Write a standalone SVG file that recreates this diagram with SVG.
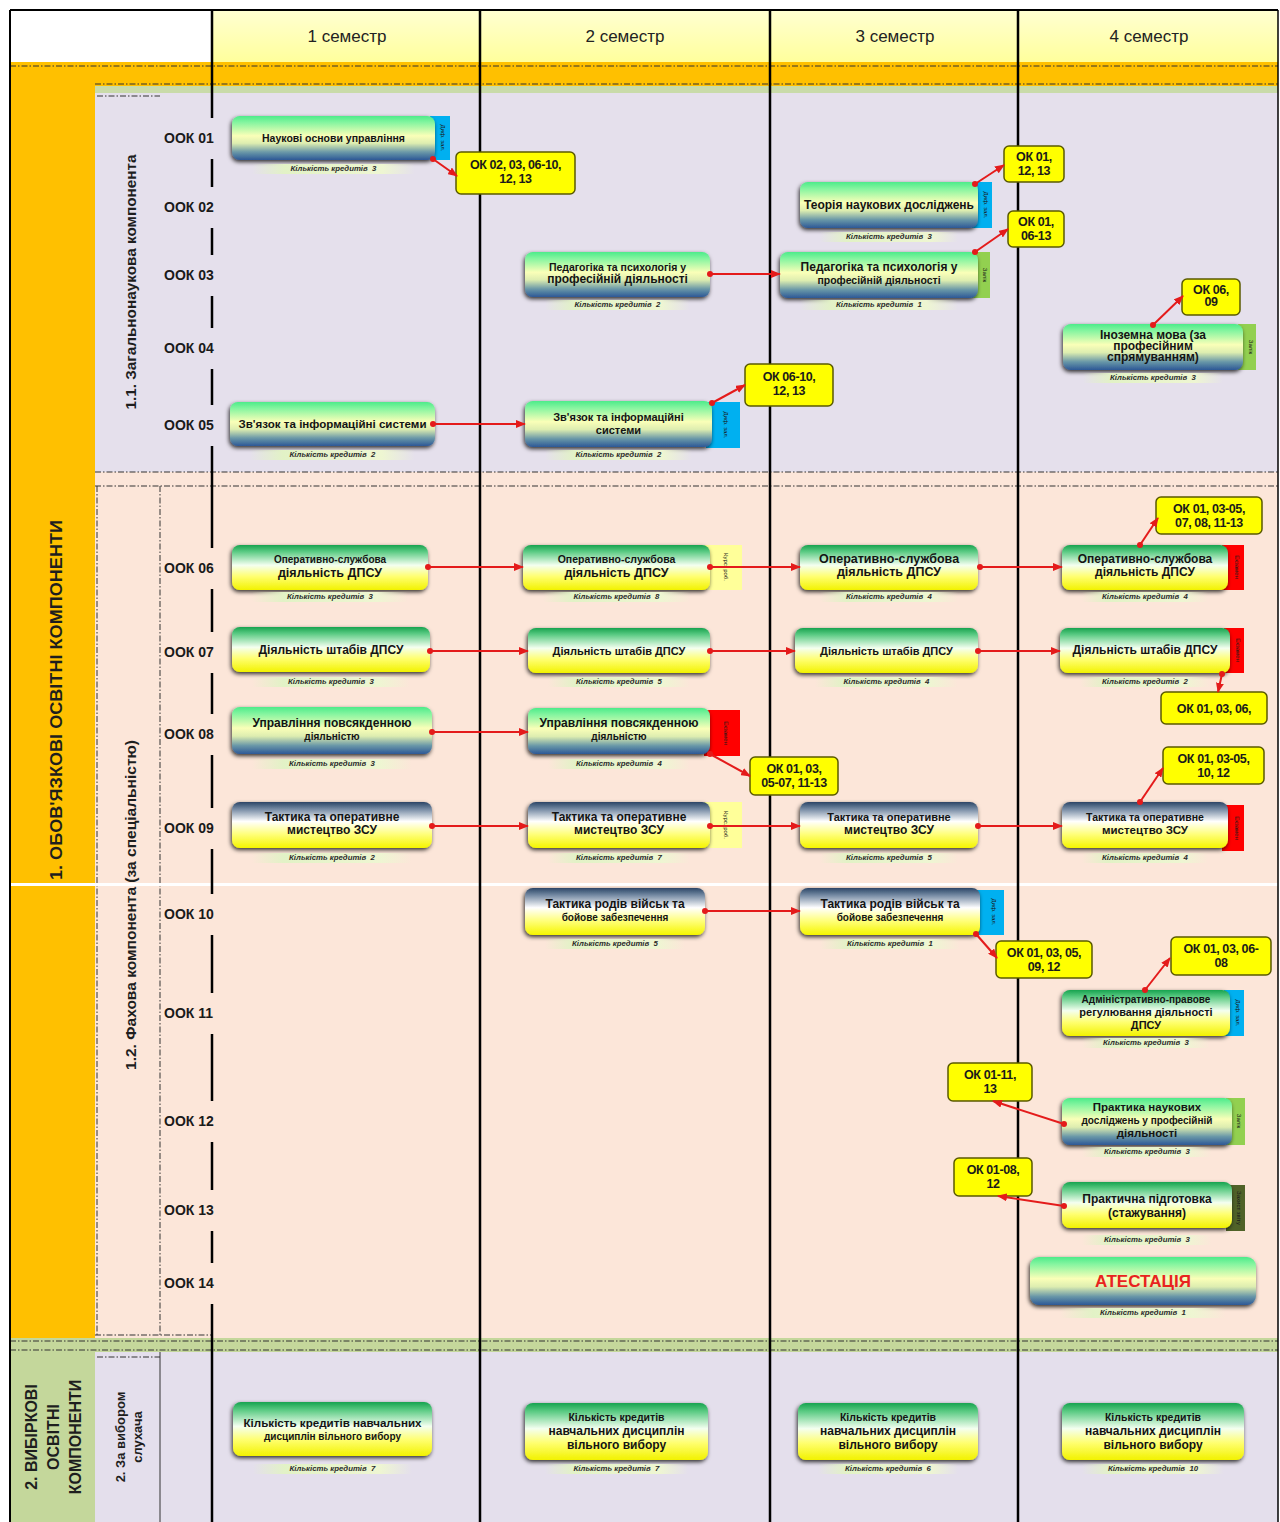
<svg xmlns="http://www.w3.org/2000/svg" width="1280" height="1522" viewBox="0 0 1280 1522">
<style>
.nt{font-family:"Liberation Sans",Arial,sans-serif;font-weight:bold;fill:#141414;text-anchor:middle}
.ct{font-family:"Liberation Sans",Arial,sans-serif;font-style:italic;font-weight:bold;font-size:7.8px;fill:#2a2a2a;text-anchor:middle}
.cr{fill:url(#gCr)}
.tt{font-family:"Liberation Sans",Arial,sans-serif;font-size:6px;fill:#1a1a1a;text-anchor:middle}
.lbl{font-family:"Liberation Sans",Arial,sans-serif;font-weight:bold;font-size:14px;fill:#1a1a1a}
.hd{font-family:"Liberation Sans",Arial,sans-serif;font-size:17px;fill:#222;text-anchor:middle}
.vt{font-family:"Liberation Sans",Arial,sans-serif;font-weight:bold;fill:#1e1e1e;text-anchor:middle}
.ko{fill:#FFFF00;stroke:#5A5A00;stroke-width:1.5}
.kt{font-family:"Liberation Sans",Arial,sans-serif;font-weight:bold;font-size:12.5px;fill:#1a1a1a;text-anchor:middle;letter-spacing:-0.4px}
.cn{stroke:#E41B1B;stroke-width:2;fill:none;marker-start:url(#dot);marker-end:url(#arr)}
.vl{stroke:#000;stroke-width:2.5}
.dl{stroke:#333;stroke-width:1;stroke-dasharray:6 2 1.5 2;fill:none}
.nd{filter:url(#sh)}
</style>
<defs>
<linearGradient id="gA" x1="0" y1="0" x2="0" y2="1">
<stop offset="0" stop-color="#4DEB8A"/><stop offset="0.15" stop-color="#86F5A0"/><stop offset="0.45" stop-color="#FAFFB8"/><stop offset="0.62" stop-color="#DDEDB0"/><stop offset="0.82" stop-color="#6A98A8"/><stop offset="1" stop-color="#2C5896"/>
</linearGradient>
<linearGradient id="gB" x1="0" y1="0" x2="0" y2="1">
<stop offset="0" stop-color="#16A34F"/><stop offset="0.15" stop-color="#5CCB84"/><stop offset="0.45" stop-color="#F4FFF0"/><stop offset="0.7" stop-color="#FFFF70"/><stop offset="1" stop-color="#F2F200"/>
</linearGradient>
<linearGradient id="gC" x1="0" y1="0" x2="0" y2="1">
<stop offset="0" stop-color="#2B4566"/><stop offset="0.15" stop-color="#7388A2"/><stop offset="0.42" stop-color="#FFFFFF"/><stop offset="0.7" stop-color="#FFFF7A"/><stop offset="1" stop-color="#F5F500"/>
</linearGradient>
<linearGradient id="gH" x1="0" y1="0" x2="0" y2="1">
<stop offset="0" stop-color="#FFFFD2"/><stop offset="1" stop-color="#FFFF9C"/>
</linearGradient>
<linearGradient id="gCr" x1="0" y1="0" x2="1" y2="0">
<stop offset="0" stop-color="#E2F2C6" stop-opacity="0"/><stop offset="0.2" stop-color="#E2F2C6"/><stop offset="0.8" stop-color="#EEF6D2"/><stop offset="1" stop-color="#EEF6D2" stop-opacity="0"/>
</linearGradient>
<filter id="sh" x="-10%" y="-20%" width="120%" height="150%">
<feDropShadow dx="-1" dy="2" stdDeviation="2" flood-color="#000" flood-opacity="0.8"/>
</filter>
<marker id="arr" markerUnits="userSpaceOnUse" markerWidth="10" markerHeight="8" viewBox="0 0 10 8" refX="9" refY="4" orient="auto">
<path d="M0,0 L10,4 L0,8 z" fill="#E41B1B"/>
</marker>
<marker id="dot" markerUnits="userSpaceOnUse" markerWidth="7" markerHeight="7" viewBox="0 0 7 7" refX="3.5" refY="3.5">
<circle cx="3.5" cy="3.5" r="3" fill="#E41B1B"/>
</marker>
</defs>

<g id="background">
<rect x="0" y="0" width="1280" height="1522" fill="#fff"/>
<rect x="10" y="10" width="202" height="52" fill="#fff"/>
<rect x="212" y="10" width="1066" height="52" fill="url(#gH)"/>
<rect x="10" y="62" width="1268" height="26" fill="#FFC000"/>
<rect x="10" y="62" width="85" height="1276" fill="#FFC000"/>
<rect x="95" y="86" width="1183" height="7" fill="#C9DBA9"/>
<rect x="95" y="93" width="1183" height="379" fill="#E5E0EC"/>
<rect x="95" y="472" width="1183" height="866" fill="#FCE6D9"/>
<rect x="10" y="1338" width="1268" height="14" fill="#C4D79B"/>
<rect x="10" y="1352" width="85" height="170" fill="#C4D79B"/>
<rect x="95" y="1352" width="1183" height="170" fill="#E4DFEC"/>
<line class="dl" x1="10" y1="66" x2="1278" y2="66"/>
<line class="dl" x1="95" y1="84" x2="1278" y2="84"/>
<line class="dl" x1="97" y1="96" x2="160" y2="96"/>
<line class="dl" x1="95" y1="472" x2="1278" y2="472"/>
<line class="dl" x1="95" y1="486" x2="1278" y2="486"/>
<line class="dl" x1="97" y1="486" x2="97" y2="1335"/>
<line class="dl" x1="160" y1="486" x2="160" y2="1335" stroke-dasharray="2 2"/>
<line class="dl" x1="95" y1="1335" x2="212" y2="1335"/>
<line class="dl" x1="10" y1="1341" x2="1278" y2="1341"/>
<line class="dl" x1="10" y1="1350" x2="1278" y2="1350"/>
<line class="dl" x1="97" y1="1357" x2="160" y2="1357"/>
<line x1="160" y1="1352" x2="160" y2="1522" stroke="#333" stroke-width="1"/>
<rect x="10" y="883" width="1268" height="3" fill="#fff"/>
<line x1="10" y1="10" x2="1278" y2="10" stroke="#000" stroke-width="2"/>
<line x1="10" y1="10" x2="10" y2="1522" stroke="#000" stroke-width="2"/>
<line x1="1278" y1="10" x2="1278" y2="1522" stroke="#000" stroke-width="1.5"/>
</g>

<g id="grid">
<line class="vl" x1="480" y1="10" x2="480" y2="1522"/>
<line class="vl" x1="770" y1="10" x2="770" y2="1522"/>
<line class="vl" x1="1018" y1="10" x2="1018" y2="1522"/>
<path class="vl" d="M212,10V118 M212,159V187 M212,228V255 M212,296V328 M212,369V405 M212,446V548 M212,589V632 M212,673V714 M212,755V808 M212,849V894 M212,935V993 M212,1034V1101 M212,1142V1190 M212,1231V1263 M212,1304V1522"/>
</g>

<g id="headers">
<text class="hd" x="347" y="42">1 семестр</text>
<text class="hd" x="625" y="42">2 семестр</text>
<text class="hd" x="895" y="42">3 семестр</text>
<text class="hd" x="1149" y="42">4 семестр</text>
</g>

<g id="section-labels">
<text class="vt" font-size="16" transform="translate(62,700) rotate(-90)" textLength="360" lengthAdjust="spacingAndGlyphs">1. ОБОВ'ЯЗКОВІ ОСВІТНІ КОМПОНЕНТИ</text>
<text class="vt" font-size="14" transform="translate(136,282) rotate(-90)" textLength="255" lengthAdjust="spacingAndGlyphs">1.1. Загальнонаукова компонента</text>
<text class="vt" font-size="14" transform="translate(136,905) rotate(-90)" textLength="330" lengthAdjust="spacingAndGlyphs">1.2. Фахова компонента (за спеціальністю)</text>
<text class="vt" font-size="16" transform="translate(37,1437) rotate(-90)">2. ВИБІРКОВІ</text>
<text class="vt" font-size="16" transform="translate(59,1437) rotate(-90)">ОСВІТНІ</text>
<text class="vt" font-size="16" transform="translate(81,1437) rotate(-90)">КОМПОНЕНТИ</text>
<text class="vt" font-size="13" transform="translate(125,1437) rotate(-90)">2. За вибором</text>
<text class="vt" font-size="13" transform="translate(142,1437) rotate(-90)">слухача</text>
</g>

<g id="row-labels">
<text class="lbl" x="164" y="143">ООК 01</text>
<text class="lbl" x="164" y="212">ООК 02</text>
<text class="lbl" x="164" y="280">ООК 03</text>
<text class="lbl" x="164" y="353">ООК 04</text>
<text class="lbl" x="164" y="430">ООК 05</text>
<text class="lbl" x="164" y="573">ООК 06</text>
<text class="lbl" x="164" y="657">ООК 07</text>
<text class="lbl" x="164" y="739">ООК 08</text>
<text class="lbl" x="164" y="833">ООК 09</text>
<text class="lbl" x="164" y="919">ООК 10</text>
<text class="lbl" x="164" y="1018">ООК 11</text>
<text class="lbl" x="164" y="1126">ООК 12</text>
<text class="lbl" x="164" y="1215">ООК 13</text>
<text class="lbl" x="164" y="1288">ООК 14</text>
</g>

<!-- Semester 1 -->
<g id="s1-ook01">
<rect x="430" y="116" width="20" height="44" fill="#00B0F0"/>
<text class="tt" transform="translate(441,138) rotate(90)">Диф. зал.</text>
<rect class="nd" x="232" y="116" width="203" height="44" rx="8" fill="url(#gA)"/>
<text class="nt" x="333.5" y="141.5" style="font-size:10.5px">Наукові основи управління</text>
<rect class="cr" x="252" y="164" width="163" height="10"/>
<text class="ct" x="333.5" y="171">Кількість кредитів&#160;&#160;3</text>
</g>
<g id="s1-ook05">
<rect class="nd" x="230" y="402" width="205" height="44" rx="8" fill="url(#gA)"/>
<text class="nt" x="332.5" y="428" style="font-size:11.5px" textLength="188" lengthAdjust="spacingAndGlyphs">Зв'язок та інформаційні системи</text>
<rect class="cr" x="250" y="450" width="165" height="10"/>
<text class="ct" x="332.5" y="457">Кількість кредитів&#160;&#160;2</text>
</g>
<g id="s1-ook06">
<rect class="nd" x="232" y="545" width="196" height="45" rx="8" fill="url(#gB)"/>
<text class="nt" x="330" y="563" style="font-size:10px">Оперативно-службова</text>
<text class="nt" x="330" y="577" style="font-size:12.5px">діяльність ДПСУ</text>
<rect class="cr" x="252" y="592" width="156" height="10"/>
<text class="ct" x="330" y="599">Кількість кредитів&#160;&#160;3</text>
</g>
<g id="s1-ook07">
<rect class="nd" x="232" y="627" width="198" height="45" rx="8" fill="url(#gB)"/>
<text class="nt" x="331" y="654" style="font-size:12px">Діяльність штабів ДПСУ</text>
<rect class="cr" x="252" y="677" width="158" height="10"/>
<text class="ct" x="331" y="684">Кількість кредитів&#160;&#160;3</text>
</g>
<g id="s1-ook08">
<rect class="nd" x="232" y="707" width="200" height="47" rx="8" fill="url(#gA)"/>
<text class="nt" x="332" y="727" style="font-size:12px">Управління повсякденною</text>
<text class="nt" x="332" y="740" style="font-size:10px">діяльністю</text>
<rect class="cr" x="252" y="759" width="160" height="10"/>
<text class="ct" x="332" y="766">Кількість кредитів&#160;&#160;3</text>
</g>
<g id="s1-ook09">
<rect class="nd" x="232" y="802" width="200" height="46" rx="8" fill="url(#gC)"/>
<text class="nt" x="332" y="821" style="font-size:12px">Тактика та оперативне</text>
<text class="nt" x="332" y="834" style="font-size:12px">мистецтво ЗСУ</text>
<rect class="cr" x="252" y="853" width="160" height="10"/>
<text class="ct" x="332" y="860">Кількість кредитів&#160;&#160;2</text>
</g>
<g id="s1-elective">
<rect class="nd" x="233" y="1402" width="199" height="54" rx="8" fill="url(#gB)"/>
<text class="nt" x="332.5" y="1427" style="font-size:11.5px" textLength="178" lengthAdjust="spacingAndGlyphs">Кількість кредитів навчальних</text>
<text class="nt" x="332.5" y="1440" style="font-size:10px">дисциплін вільного вибору</text>
<rect class="cr" x="253" y="1464" width="159" height="10"/>
<text class="ct" x="332.5" y="1471">Кількість кредитів&#160;&#160;7</text>
</g>

<!-- Semester 2 -->
<g id="s2-ook03">
<rect class="nd" x="525" y="252" width="185" height="45" rx="8" fill="url(#gA)"/>
<text class="nt" x="617.5" y="271" style="font-size:10.5px">Педагогіка та психологія у</text>
<text class="nt" x="617.5" y="283" style="font-size:12px">професійній діяльності</text>
<rect class="cr" x="545" y="300" width="145" height="10"/>
<text class="ct" x="617.5" y="307">Кількість кредитів&#160;&#160;2</text>
</g>
<g id="s2-ook05">
<rect x="706" y="402" width="34" height="46" fill="#00B0F0"/>
<text class="tt" transform="translate(724,425) rotate(90)">Диф. зал.</text>
<rect class="nd" x="525" y="401" width="187" height="46" rx="8" fill="url(#gA)"/>
<text class="nt" x="618.5" y="421" style="font-size:11px">Зв'язок та інформаційні</text>
<text class="nt" x="618.5" y="434" style="font-size:11px">системи</text>
<rect class="cr" x="545" y="450" width="147" height="10"/>
<text class="ct" x="618.5" y="457">Кількість кредитів&#160;&#160;2</text>
</g>
<g id="s2-ook06">
<rect x="704" y="545" width="38" height="45" fill="#FFFF99"/>
<text class="tt" transform="translate(724,567) rotate(90)">Курс. роб.</text>
<rect class="nd" x="523" y="545" width="187" height="45" rx="8" fill="url(#gB)"/>
<text class="nt" x="616.5" y="563" style="font-size:10.5px">Оперативно-службова</text>
<text class="nt" x="616.5" y="577" style="font-size:12.5px">діяльність ДПСУ</text>
<rect class="cr" x="543" y="592" width="147" height="10"/>
<text class="ct" x="616.5" y="599">Кількість кредитів&#160;&#160;8</text>
</g>
<g id="s2-ook07">
<rect class="nd" x="528" y="628" width="182" height="45" rx="8" fill="url(#gB)"/>
<text class="nt" x="619" y="655" style="font-size:11px">Діяльність штабів ДПСУ</text>
<rect class="cr" x="548" y="677" width="142" height="10"/>
<text class="ct" x="619" y="684">Кількість кредитів&#160;&#160;5</text>
</g>
<g id="s2-ook08">
<rect x="704" y="710" width="36" height="46" fill="#FF0000"/>
<text class="tt" transform="translate(724,733) rotate(90)">Екзамен</text>
<rect class="nd" x="528" y="708" width="182" height="46" rx="8" fill="url(#gA)"/>
<text class="nt" x="619" y="727" style="font-size:12px">Управління повсякденною</text>
<text class="nt" x="619" y="740" style="font-size:10px">діяльністю</text>
<rect class="cr" x="548" y="759" width="142" height="10"/>
<text class="ct" x="619" y="766">Кількість кредитів&#160;&#160;4</text>
</g>
<g id="s2-ook09">
<rect x="704" y="802" width="38" height="46" fill="#FFFF99"/>
<text class="tt" transform="translate(724,825) rotate(90)">Курс. роб.</text>
<rect class="nd" x="528" y="802" width="182" height="46" rx="8" fill="url(#gC)"/>
<text class="nt" x="619" y="821" style="font-size:12px">Тактика та оперативне</text>
<text class="nt" x="619" y="834" style="font-size:12px">мистецтво ЗСУ</text>
<rect class="cr" x="548" y="853" width="142" height="10"/>
<text class="ct" x="619" y="860">Кількість кредитів&#160;&#160;7</text>
</g>
<g id="s2-ook10">
<rect class="nd" x="525" y="888" width="180" height="47" rx="8" fill="url(#gC)"/>
<text class="nt" x="615" y="908" style="font-size:12px">Тактика родів військ та</text>
<text class="nt" x="615" y="921" style="font-size:10px">бойове забезпечення</text>
<rect class="cr" x="545" y="939" width="140" height="10"/>
<text class="ct" x="615" y="946">Кількість кредитів&#160;&#160;5</text>
</g>
<g id="s2-elective">
<rect class="nd" x="525" y="1403" width="183" height="57" rx="8" fill="url(#gB)"/>
<text class="nt" x="616.5" y="1421" style="font-size:10.5px">Кількість кредитів</text>
<text class="nt" x="616.5" y="1435" style="font-size:12px">навчальних дисциплін</text>
<text class="nt" x="616.5" y="1449" style="font-size:12px">вільного вибору</text>
<rect class="cr" x="545" y="1464" width="143" height="10"/>
<text class="ct" x="616.5" y="1471">Кількість кредитів&#160;&#160;7</text>
</g>

<!-- Semester 3 -->
<g id="s3-ook02">
<rect x="972" y="182" width="20" height="46" fill="#00B0F0"/>
<text class="tt" transform="translate(984,205) rotate(90)">Диф. зал.</text>
<rect class="nd" x="800" y="182" width="178" height="46" rx="8" fill="url(#gA)"/>
<text class="nt" x="889" y="209" style="font-size:12px">Теорія наукових досліджень</text>
<rect class="cr" x="820" y="232" width="138" height="10"/>
<text class="ct" x="889" y="239">Кількість кредитів&#160;&#160;3</text>
</g>
<g id="s3-ook03">
<rect x="972" y="252" width="18" height="46" fill="#92D050"/>
<text class="tt" transform="translate(983,275) rotate(90)">Залік</text>
<rect class="nd" x="780" y="252" width="198" height="46" rx="8" fill="url(#gA)"/>
<text class="nt" x="879" y="271" style="font-size:12px">Педагогіка та психологія у</text>
<text class="nt" x="879" y="284" style="font-size:10.5px">професійній діяльності</text>
<rect class="cr" x="800" y="300" width="158" height="10"/>
<text class="ct" x="879" y="307">Кількість кредитів&#160;&#160;1</text>
</g>
<g id="s3-ook06">
<rect class="nd" x="800" y="545" width="178" height="45" rx="8" fill="url(#gB)"/>
<text class="nt" x="889" y="563" style="font-size:12.5px">Оперативно-службова</text>
<text class="nt" x="889" y="576" style="font-size:12.5px">діяльність ДПСУ</text>
<rect class="cr" x="820" y="592" width="138" height="10"/>
<text class="ct" x="889" y="599">Кількість кредитів&#160;&#160;4</text>
</g>
<g id="s3-ook07">
<rect class="nd" x="795" y="628" width="183" height="45" rx="8" fill="url(#gB)"/>
<text class="nt" x="886.5" y="655" style="font-size:11px">Діяльність штабів ДПСУ</text>
<rect class="cr" x="815" y="677" width="143" height="10"/>
<text class="ct" x="886.5" y="684">Кількість кредитів&#160;&#160;4</text>
</g>
<g id="s3-ook09">
<rect class="nd" x="800" y="802" width="178" height="46" rx="8" fill="url(#gC)"/>
<text class="nt" x="889" y="821" style="font-size:11px">Тактика та оперативне</text>
<text class="nt" x="889" y="834" style="font-size:12px">мистецтво ЗСУ</text>
<rect class="cr" x="820" y="853" width="138" height="10"/>
<text class="ct" x="889" y="860">Кількість кредитів&#160;&#160;5</text>
</g>
<g id="s3-ook10">
<rect x="976" y="890" width="28" height="45" fill="#00B0F0"/>
<text class="tt" transform="translate(992,912) rotate(90)">Диф. зал.</text>
<rect class="nd" x="800" y="888" width="180" height="47" rx="8" fill="url(#gC)"/>
<text class="nt" x="890" y="908" style="font-size:12px">Тактика родів військ та</text>
<text class="nt" x="890" y="921" style="font-size:10px">бойове забезпечення</text>
<rect class="cr" x="820" y="939" width="140" height="10"/>
<text class="ct" x="890" y="946">Кількість кредитів&#160;&#160;1</text>
</g>
<g id="s3-elective">
<rect class="nd" x="798" y="1403" width="180" height="57" rx="8" fill="url(#gB)"/>
<text class="nt" x="888" y="1421" style="font-size:10.5px">Кількість кредитів</text>
<text class="nt" x="888" y="1435" style="font-size:12px">навчальних дисциплін</text>
<text class="nt" x="888" y="1449" style="font-size:12px">вільного вибору</text>
<rect class="cr" x="818" y="1464" width="140" height="10"/>
<text class="ct" x="888" y="1471">Кількість кредитів&#160;&#160;6</text>
</g>

<!-- Semester 4 -->
<g id="s4-ook04">
<rect x="1238" y="324" width="18" height="46" fill="#92D050"/>
<text class="tt" transform="translate(1249,347) rotate(90)">Залік</text>
<rect class="nd" x="1063" y="324" width="180" height="46" rx="8" fill="url(#gA)"/>
<text class="nt" x="1153" y="339" style="font-size:12px">Іноземна мова (за</text>
<text class="nt" x="1153" y="350" style="font-size:12px">професійним</text>
<text class="nt" x="1153" y="361" style="font-size:12px">спрямуванням)</text>
<rect class="cr" x="1083" y="373" width="140" height="10"/>
<text class="ct" x="1153" y="380">Кількість кредитів&#160;&#160;3</text>
</g>
<g id="s4-ook06">
<rect x="1222" y="545" width="22" height="45" fill="#FF0000"/>
<text class="tt" transform="translate(1235,567) rotate(90)">Екзамен</text>
<rect class="nd" x="1062" y="545" width="166" height="45" rx="8" fill="url(#gB)"/>
<text class="nt" x="1145" y="563" style="font-size:12px">Оперативно-службова</text>
<text class="nt" x="1145" y="576" style="font-size:12px">діяльність ДПСУ</text>
<rect class="cr" x="1082" y="592" width="126" height="10"/>
<text class="ct" x="1145" y="599">Кількість кредитів&#160;&#160;4</text>
</g>
<g id="s4-ook07">
<rect x="1224" y="628" width="20" height="45" fill="#FF0000"/>
<text class="tt" transform="translate(1236,650) rotate(90)">Екзамен</text>
<rect class="nd" x="1060" y="628" width="170" height="45" rx="8" fill="url(#gB)"/>
<text class="nt" x="1145" y="654" style="font-size:12px">Діяльність штабів ДПСУ</text>
<rect class="cr" x="1080" y="677" width="130" height="10"/>
<text class="ct" x="1145" y="684">Кількість кредитів&#160;&#160;2</text>
</g>
<g id="s4-ook09">
<rect x="1222" y="805" width="22" height="46" fill="#FF0000"/>
<text class="tt" transform="translate(1235,828) rotate(90)">Екзамен</text>
<rect class="nd" x="1062" y="802" width="166" height="46" rx="8" fill="url(#gC)"/>
<text class="nt" x="1145" y="821" style="font-size:10.5px">Тактика та оперативне</text>
<text class="nt" x="1145" y="834" style="font-size:11.5px">мистецтво ЗСУ</text>
<rect class="cr" x="1082" y="853" width="126" height="10"/>
<text class="ct" x="1145" y="860">Кількість кредитів&#160;&#160;4</text>
</g>
<g id="s4-ook11">
<rect x="1224" y="990" width="20" height="46" fill="#00B0F0"/>
<text class="tt" transform="translate(1236,1013) rotate(90)">Диф. зал.</text>
<rect class="nd" x="1062" y="990" width="168" height="46" rx="8" fill="url(#gB)"/>
<text class="nt" x="1146" y="1003" style="font-size:10px">Адміністративно-правове</text>
<text class="nt" x="1146" y="1016" style="font-size:11px">регулювання діяльності</text>
<text class="nt" x="1146" y="1029" style="font-size:11px">ДПСУ</text>
<rect class="cr" x="1082" y="1038" width="128" height="10"/>
<text class="ct" x="1146" y="1045">Кількість кредитів&#160;&#160;3</text>
</g>
<g id="s4-ook12">
<rect x="1226" y="1098" width="19" height="47" fill="#92D050"/>
<text class="tt" transform="translate(1237,1121) rotate(90)">Залік</text>
<rect class="nd" x="1062" y="1098" width="170" height="47" rx="8" fill="url(#gA)"/>
<text class="nt" x="1147" y="1111" style="font-size:11.5px">Практика наукових</text>
<text class="nt" x="1147" y="1124" style="font-size:10px">досліджень у професійній</text>
<text class="nt" x="1147" y="1137" style="font-size:11.5px">діяльності</text>
<rect class="cr" x="1082" y="1147" width="130" height="10"/>
<text class="ct" x="1147" y="1154">Кількість кредитів&#160;&#160;3</text>
</g>
<g id="s4-ook13">
<rect x="1226" y="1185" width="19" height="46" fill="#4F6228"/>
<text class="tt" transform="translate(1237,1208) rotate(90)">Захист звіту</text>
<rect class="nd" x="1062" y="1182" width="170" height="46" rx="8" fill="url(#gB)"/>
<text class="nt" x="1147" y="1203" style="font-size:12px">Практична підготовка</text>
<text class="nt" x="1147" y="1217" style="font-size:12px">(стажування)</text>
<rect class="cr" x="1082" y="1235" width="130" height="10"/>
<text class="ct" x="1147" y="1242">Кількість кредитів&#160;&#160;3</text>
</g>
<g id="s4-ook14">
<rect class="nd" x="1030" y="1257" width="226" height="48" rx="9" fill="url(#gA)"/>
<text class="nt" x="1143" y="1287" style="font-size:17px;fill:#E8231E">АТЕСТАЦІЯ</text>
<rect class="cr" x="1060" y="1308" width="166" height="10"/>
<text class="ct" x="1143" y="1315">Кількість кредитів&#160;&#160;1</text>
</g>
<g id="s4-elective">
<rect class="nd" x="1062" y="1403" width="182" height="57" rx="8" fill="url(#gB)"/>
<text class="nt" x="1153" y="1421" style="font-size:10.5px">Кількість кредитів</text>
<text class="nt" x="1153" y="1435" style="font-size:12px">навчальних дисциплін</text>
<text class="nt" x="1153" y="1449" style="font-size:12px">вільного вибору</text>
<rect class="cr" x="1082" y="1464" width="142" height="10"/>
<text class="ct" x="1153" y="1471">Кількість кредитів&#160;&#160;10</text>
</g>

<!-- Competence callouts -->
<g id="k-s1-ook01"><rect class="ko" x="456" y="152" width="119" height="42" rx="5"/><text class="kt" x="515.5" y="169">ОК 02, 03, 06-10,</text><text class="kt" x="515.5" y="183">12, 13</text></g>
<g id="k-s2-ook05"><rect class="ko" x="745" y="364" width="88" height="42" rx="5"/><text class="kt" x="789" y="381">ОК 06-10,</text><text class="kt" x="789" y="395">12, 13</text></g>
<g id="k-s3-ook02"><rect class="ko" x="1004" y="146" width="60" height="36" rx="5"/><text class="kt" x="1034" y="161">ОК 01,</text><text class="kt" x="1034" y="175">12, 13</text></g>
<g id="k-s3-ook03"><rect class="ko" x="1008" y="211" width="56" height="36" rx="5"/><text class="kt" x="1036" y="226">ОК 01,</text><text class="kt" x="1036" y="240">06-13</text></g>
<g id="k-s4-ook04"><rect class="ko" x="1182" y="279" width="58" height="36" rx="5"/><text class="kt" x="1211" y="294">ОК 06,</text><text class="kt" x="1211" y="306">09</text></g>
<g id="k-s4-ook06"><rect class="ko" x="1156" y="497" width="106" height="37" rx="5"/><text class="kt" x="1209" y="513">ОК 01, 03-05,</text><text class="kt" x="1209" y="527">07, 08, 11-13</text></g>
<g id="k-s4-ook07"><rect class="ko" x="1161" y="692" width="106" height="32" rx="5"/><text class="kt" x="1214" y="713">ОК 01, 03, 06,</text></g>
<g id="k-s2-ook08"><rect class="ko" x="750" y="757" width="88" height="38" rx="5"/><text class="kt" x="794" y="773">ОК 01, 03,</text><text class="kt" x="794" y="787">05-07, 11-13</text></g>
<g id="k-s4-ook09"><rect class="ko" x="1163" y="747" width="101" height="37" rx="5"/><text class="kt" x="1213.5" y="763">ОК 01, 03-05,</text><text class="kt" x="1213.5" y="777">10, 12</text></g>
<g id="k-s3-ook10"><rect class="ko" x="996" y="941" width="96" height="37" rx="5"/><text class="kt" x="1044" y="957">ОК 01, 03, 05,</text><text class="kt" x="1044" y="971">09, 12</text></g>
<g id="k-s4-ook11"><rect class="ko" x="1171" y="937" width="100" height="38" rx="5"/><text class="kt" x="1221" y="953">ОК 01, 03, 06-</text><text class="kt" x="1221" y="967">08</text></g>
<g id="k-s4-ook12"><rect class="ko" x="948" y="1063" width="84" height="38" rx="5"/><text class="kt" x="990" y="1079">ОК 01-11,</text><text class="kt" x="990" y="1093">13</text></g>
<g id="k-s4-ook13"><rect class="ko" x="954" y="1158" width="78" height="38" rx="5"/><text class="kt" x="993" y="1174">ОК 01-08,</text><text class="kt" x="993" y="1188">12</text></g>

<g id="connectors">
<line class="cn" x1="433" y1="159" x2="457" y2="176"/>
<line class="cn" x1="433" y1="424" x2="525" y2="424"/>
<line class="cn" x1="710" y1="274" x2="780" y2="274"/>
<line class="cn" x1="712" y1="403" x2="745" y2="385"/>
<line class="cn" x1="975" y1="184" x2="1004" y2="165"/>
<line class="cn" x1="975" y1="252" x2="1008" y2="229"/>
<line class="cn" x1="1153" y1="325" x2="1183" y2="296"/>
<line class="cn" x1="428" y1="567" x2="523" y2="567"/>
<line class="cn" x1="710" y1="567" x2="800" y2="567"/>
<line class="cn" x1="980" y1="567" x2="1062" y2="567"/>
<line class="cn" x1="1140" y1="545" x2="1158" y2="518"/>
<line class="cn" x1="430" y1="651" x2="528" y2="651"/>
<line class="cn" x1="710" y1="651" x2="795" y2="651"/>
<line class="cn" x1="978" y1="651" x2="1060" y2="651"/>
<line class="cn" x1="1222" y1="674" x2="1218" y2="692"/>
<line class="cn" x1="432" y1="732" x2="528" y2="732"/>
<line class="cn" x1="710" y1="754" x2="750" y2="776"/>
<line class="cn" x1="1140" y1="802" x2="1163" y2="768"/>
<line class="cn" x1="432" y1="826" x2="528" y2="826"/>
<line class="cn" x1="710" y1="826" x2="800" y2="826"/>
<line class="cn" x1="978" y1="826" x2="1062" y2="826"/>
<line class="cn" x1="705" y1="911" x2="800" y2="911"/>
<line class="cn" x1="976" y1="934" x2="997" y2="958"/>
<line class="cn" x1="1145" y1="990" x2="1170" y2="958"/>
<line class="cn" x1="1064" y1="1124" x2="993" y2="1101"/>
<line class="cn" x1="1064" y1="1206" x2="998" y2="1196"/>
</g>
</svg>
